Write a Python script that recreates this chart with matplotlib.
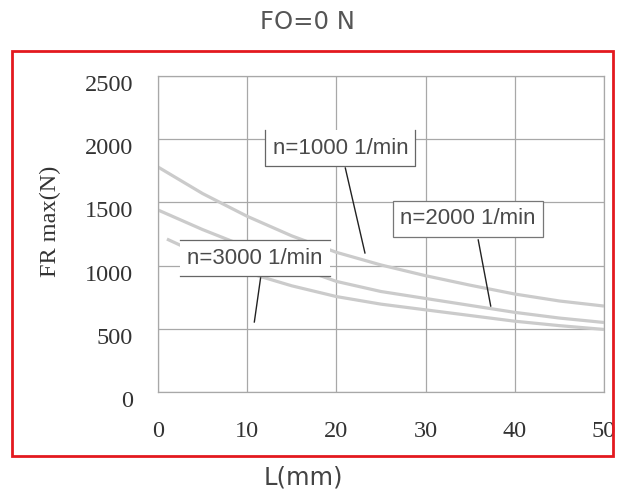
import matplotlib
matplotlib.use("Agg")
import matplotlib.pyplot as plt
from matplotlib.patches import Rectangle
from matplotlib.transforms import ScaledTranslation

# ---- data ----
L = [0, 5, 10, 15, 20, 25, 30, 35, 40, 45, 50]
L_3000 = [1, 5, 10, 15, 20, 25, 30, 35, 40, 45, 50]
fr_1000 = [1780, 1570, 1390, 1235, 1105, 1005, 920, 845, 775, 720, 680]
fr_2000 = [1440, 1285, 1145, 1000, 875, 795, 740, 685, 630, 585, 550]
fr_3000 = [1210, 1080, 945, 840, 755, 695, 650, 605, 560, 525, 495]
x_ticks = [0, 10, 20, 30, 40, 50]
y_ticks = [0, 500, 1000, 1500, 2000, 2500]
labels = ["n=1000 1/min", "n=2000 1/min", "n=3000 1/min"]

W, H = 617, 499
fig = plt.figure(figsize=(W / 100, H / 100), dpi=100)
ax = fig.add_axes([158 / W, 1 - 392 / H, 446 / W, 316 / H])
ax.set_xlim(0, 50)
ax.set_ylim(0, 2500)
ax.set_xticks(x_ticks)
ax.set_yticks(y_ticks)
ax.grid(True, color="#a8a8a8", lw=0.9)
ax.set_axisbelow(True)
for s in ax.spines.values():
    s.set_color("#a8a8a8")
    s.set_linewidth(0.9)
ax.tick_params(length=0, labelsize=17.5, labelcolor="#333333")
ax.tick_params(axis="y", pad=18)
ax.tick_params(axis="x", pad=21)
for lab in ax.get_xticklabels() + ax.get_yticklabels():
    lab.set_fontfamily("Liberation Serif")
off = ScaledTranslation(0, -0.07, fig.dpi_scale_trans)
for lab in ax.get_yticklabels():
    lab.set_transform(lab.get_transform() + off)

curve_kw = dict(color="#cbcbcb", lw=2.3, solid_capstyle="butt", zorder=2)
ax.plot(L, fr_1000, **curve_kw)
ax.plot(L, fr_2000, **curve_kw)
ax.plot(L_3000, fr_3000, **curve_kw)

txt_kw = dict(ha="center", va="center", fontsize=16, color="#4a4a4a",
              fontfamily="Liberation Sans", zorder=6)
lead_kw = dict(color="#222222", lw=1.0, zorder=5)
edge_kw = dict(color="#666666", lw=0.9, zorder=5)

# n=1000 box (left, right, bottom edges)
x0, x1, y0, y1 = 12.0, 28.8, 1788, 2073
ax.add_patch(Rectangle((x0, y0), x1 - x0, y1 - y0, fc="white", ec="none", zorder=4))
ax.plot([x0, x0, x1, x1], [y1, y0, y0, y1], **edge_kw)
ax.text(20.5, 1925, labels[0], **txt_kw)
ax.plot([21.0, 23.2], [1772, 1100], **lead_kw)

# n=2000 box (full border)
x0, x1, y0, y1 = 26.3, 43.2, 1226, 1511
ax.add_patch(Rectangle((x0, y0), x1 - x0, y1 - y0, fc="white", ec="#777777", lw=0.9, zorder=4))
ax.text(34.75, 1369, labels[1], **txt_kw)
ax.plot([35.9, 37.3], [1203, 680], **lead_kw)

# n=3000 box (top, bottom edges)
x0, x1, y0, y1 = 2.47, 19.3, 918, 1203
ax.add_patch(Rectangle((x0, y0), x1 - x0, y1 - y0, fc="white", ec="none", zorder=4))
ax.plot([x0, x1], [y1, y1], **edge_kw)
ax.plot([x0, x1], [y0, y0], **edge_kw)
ax.text(10.9, 1060, labels[2], **txt_kw)
ax.plot([11.5, 10.8], [902, 554], **lead_kw)

fig.text(50 / W, 1 - 221 / H, "FR max(N)", rotation=90, ha="center", va="center",
         fontsize=17.5, color="#333333", fontfamily="Liberation Serif")
fig.text(307 / W, 1 - 22 / H, "FO=0 N", ha="center", va="center",
         fontsize=17.5, color="#555555")
fig.text(303 / W, 1 - 478 / H, "L(mm)", ha="center", va="center",
         fontsize=17.5, color="#444444")

fig.patches.append(Rectangle((12 / W, 1 - 456 / H), (613 - 12) / W, (456 - 51) / H,
                             transform=fig.transFigure, fill=False,
                             edgecolor="#e3191f", lw=2))

fig.savefig("out.png", dpi=100)
